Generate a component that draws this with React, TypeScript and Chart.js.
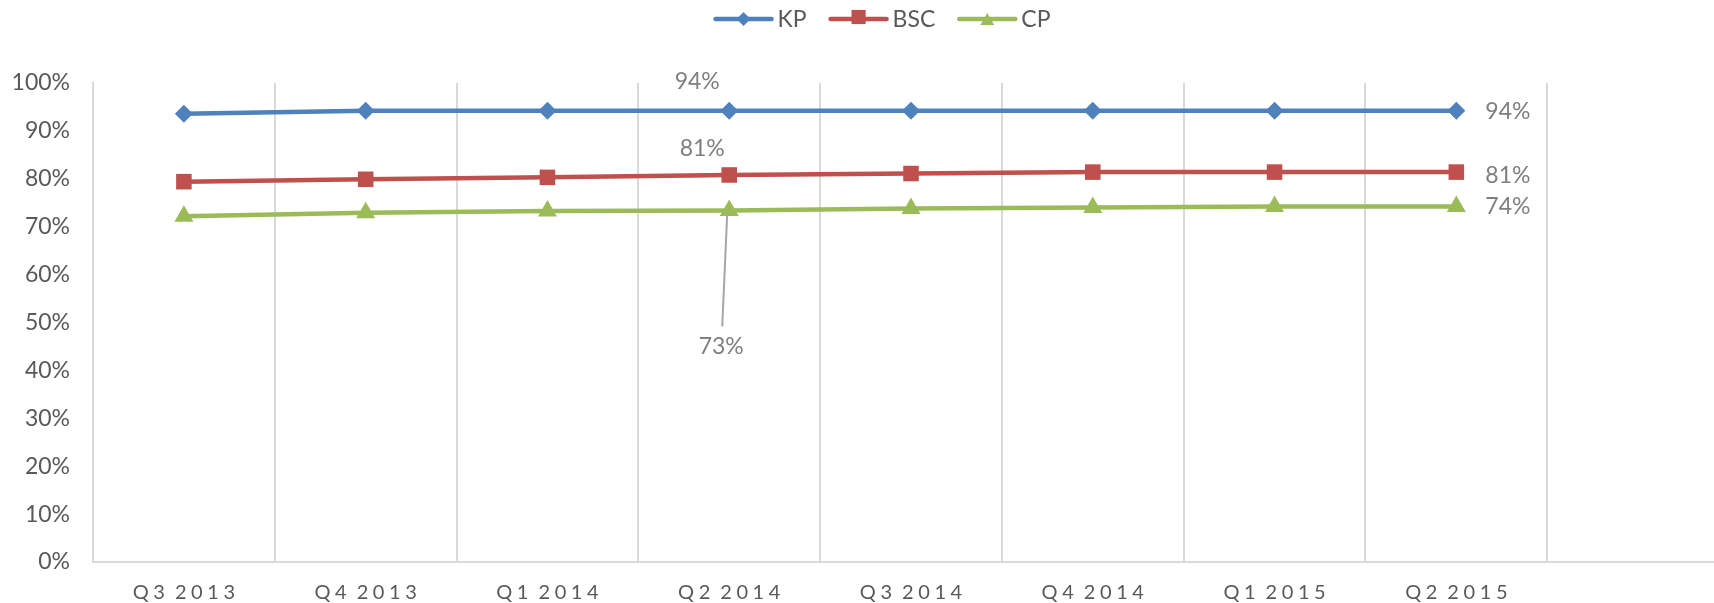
import React, { useEffect, useRef } from "react";
import { Chart, registerables } from "chart.js";

Chart.register(...registerables);

// ---- data ----
const categories = ["Q3 2013", "Q4 2013", "Q1 2014", "Q2 2014", "Q3 2014", "Q4 2014", "Q1 2015", "Q2 2015", ""];
const seriesNames = ["KP", "BSC", "CP"];
const kpValues = [93.6, 94.2, 94.2, 94.2, 94.2, 94.2, 94.2, 94.2];
const bscValues = [79.4, 79.9, 80.3, 80.8, 81.1, 81.4, 81.4, 81.4];
const cpValues = [72.2, 72.9, 73.3, 73.4, 73.8, 74.0, 74.2, 74.2];
const yTicks = [0, 10, 20, 30, 40, 50, 60, 70, 80, 90, 100];

// ---- styles ----
const COLORS = ["#4f81bd", "#c0504d", "#9bbb59"];
const MARKERS = ["rectRot", "rect", "triangle"];
const MARKER_R = [9, 11, 11];
const FONT = "Lato";
const AXIS_COLOR = "#595959";
const LABEL_COLOR = "#7f7f7f";
const GRID_COLOR = "#d9d9d9";
const CANVAS_W = 1764;
const CANVAS_H = 603;

const labelSpecs = [
  { ds: 0, idx: 3, dx: -32, dy: -29, align: "center", leader: false },
  { ds: 1, idx: 3, dx: -27, dy: -26, align: "center", leader: false },
  { ds: 2, idx: 3, dx: -8, dy: 136, align: "center", leader: true },
  { ds: 0, idx: 7, dx: 29, dy: 1, align: "left", leader: false },
  { ds: 1, idx: 7, dx: 29, dy: 3, align: "left", leader: false },
  { ds: 2, idx: 7, dx: 29, dy: 0, align: "left", leader: false },
];

const spaced = (s: string) =>
  s
    .split(" ")
    .map((w) => w.split("").join("\u2006\u200A"))
    .join("\u2006\u2006\u2006");

function drawMarker(ctx: CanvasRenderingContext2D, style: string, x: number, y: number, r: number, color: string) {
  ctx.save();
  ctx.fillStyle = color;
  ctx.beginPath();
  if (style === "rectRot") {
    ctx.moveTo(x - r, y);
    ctx.lineTo(x, y - r);
    ctx.lineTo(x + r, y);
    ctx.lineTo(x, y + r);
  } else if (style === "rect") {
    const s = r * Math.SQRT1_2;
    ctx.rect(x - s, y - s, 2 * s, 2 * s);
  } else {
    const h = r * 1.5;
    const w = r * Math.sqrt(3);
    ctx.moveTo(x, y - h / 2);
    ctx.lineTo(x + w / 2, y + h / 2);
    ctx.lineTo(x - w / 2, y + h / 2);
  }
  ctx.closePath();
  ctx.fill();
  ctx.restore();
}

const legendPlugin = {
  id: "customLegend",
  afterDraw(chart: any) {
    const ctx: CanvasRenderingContext2D = chart.ctx;
    ctx.save();
    ctx.font = `23px ${FONT}`;
    const lineLen = 60;
    const textGap = 4;
    const itemGap = 22;
    const names = chart.data.datasets.map((d: any) => d.label as string);
    const widths = names.map((n: string) => lineLen + textGap + ctx.measureText(n).width);
    const total = widths.reduce((a: number, b: number) => a + b, 0) + itemGap * (names.length - 1);
    let x = chart.width / 2 - total / 2;
    const y = 19;
    names.forEach((n: string, i: number) => {
      ctx.strokeStyle = COLORS[i];
      ctx.lineWidth = 4.5;
      ctx.lineCap = "round";
      ctx.beginPath();
      ctx.moveTo(x + 2, y);
      ctx.lineTo(x + lineLen - 2, y);
      ctx.stroke();
      const mr = [7, 10, 8][i];
      drawMarker(ctx, MARKERS[i], x + lineLen / 2, y - (i === 1 ? 2 : 0), mr, COLORS[i]);
      ctx.fillStyle = AXIS_COLOR;
      ctx.textAlign = "left";
      ctx.textBaseline = "middle";
      ctx.fillText(n, x + lineLen + textGap, y + 1);
      x += widths[i] + itemGap;
    });
    ctx.restore();
  },
};

const dataLabelPlugin = {
  id: "dataLabels",
  afterDatasetsDraw(chart: any) {
    const ctx: CanvasRenderingContext2D = chart.ctx;
    ctx.save();
    ctx.font = `23px ${FONT}`;
    ctx.textBaseline = "middle";
    labelSpecs.forEach((s) => {
      const el = chart.getDatasetMeta(s.ds).data[s.idx];
      const v = chart.data.datasets[s.ds].data[s.idx];
      const tx = el.x + s.dx;
      const ty = el.y + s.dy;
      if (s.leader) {
        ctx.strokeStyle = "#a6a6a6";
        ctx.lineWidth = 2;
        ctx.beginPath();
        ctx.moveTo(tx + 1, ty - 20);
        ctx.lineTo(el.x - 2, el.y + 3);
        ctx.stroke();
      }
      ctx.fillStyle = LABEL_COLOR;
      ctx.textAlign = s.align as CanvasTextAlign;
      ctx.fillText(`${Math.round(v)}%`, tx, ty);
    });
    ctx.restore();
  },
};

export default function App() {
  const ref = useRef<HTMLCanvasElement>(null);
  useEffect(() => {
    if (!ref.current) return;
    const values = [kpValues, bscValues, cpValues];
    const chart = new Chart(ref.current, {
      type: "line",
      data: {
        labels: categories,
        datasets: seriesNames.map((name, i) => ({
          label: name,
          data: values[i],
          borderColor: COLORS[i],
          backgroundColor: COLORS[i],
          borderWidth: 4.5,
          borderCapStyle: "round",
          pointStyle: MARKERS[i] as any,
          pointRadius: MARKER_R[i],
          pointBorderWidth: 0,
          pointBackgroundColor: COLORS[i],
          tension: 0,
          fill: false,
        })),
      },
      options: {
        responsive: false,
        animation: false,
        events: [],
        layout: { padding: { top: 83, right: 35, left: 0, bottom: 0 } },
        plugins: {
          legend: { display: false },
          tooltip: { enabled: false },
          title: { display: false },
        },
        scales: {
          x: {
            type: "category",
            offset: true,
            grid: { display: true, offset: true, color: GRID_COLOR, lineWidth: 2, drawTicks: false },
            border: { display: true, color: GRID_COLOR, width: 2 },
            ticks: {
              color: AXIS_COLOR,
              font: { family: FONT, size: 20 },
              padding: 19,
              maxRotation: 0,
              autoSkip: false,
              callback: (_v: any, i: number) => spaced(categories[i]),
            },
            afterFit: (s: any) => {
              s.height = 41;
            },
          },
          y: {
            min: 0,
            max: 100,
            afterBuildTicks: (s: any) => {
              s.ticks = yTicks.map((v) => ({ value: v }));
            },
            grid: { display: false, drawTicks: false },
            border: { display: true, color: GRID_COLOR, width: 2 },
            ticks: {
              color: AXIS_COLOR,
              font: { family: FONT, size: 23 },
              padding: 23,
              callback: (v: any) => `${v}%`,
            },
            afterFit: (s: any) => {
              s.width = 93;
            },
          },
        },
      },
      plugins: [legendPlugin, dataLabelPlugin],
    });
    return () => chart.destroy();
  }, []);

  return (
    <div
      style={{
        position: "fixed",
        left: 0,
        top: 0,
        width: "100vw",
        height: CANVAS_H,
        overflow: "hidden",
        background: "#ffffff",
      }}
    >
      <canvas ref={ref} width={CANVAS_W} height={CANVAS_H} style={{ display: "block" }} />
    </div>
  );
}
